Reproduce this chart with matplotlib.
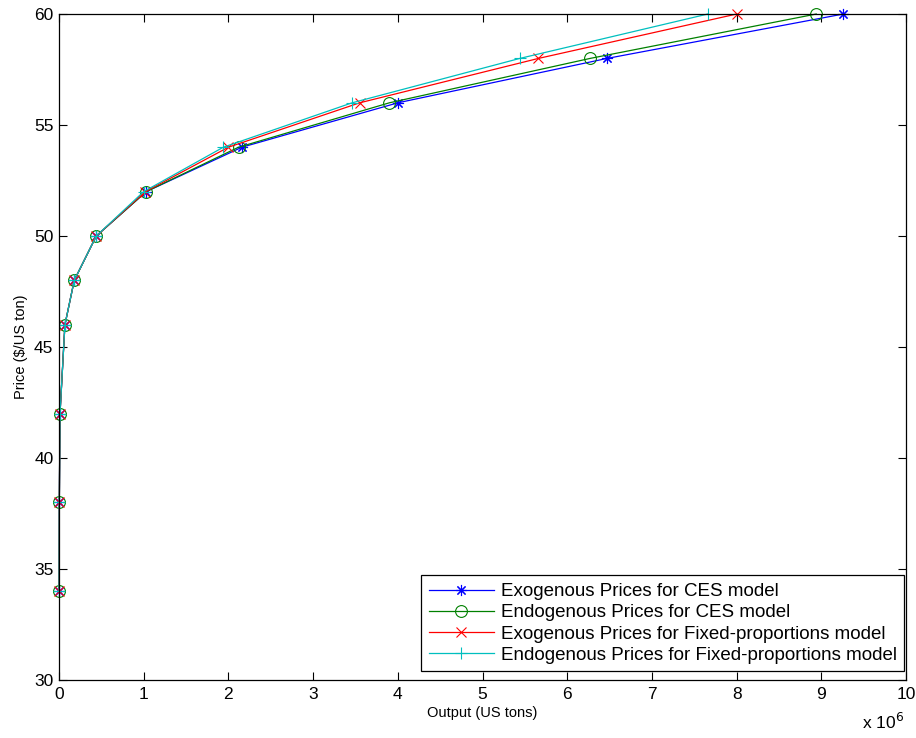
import numpy as np
import matplotlib
matplotlib.use('Agg')
import matplotlib.pyplot as plt

plt.rcParams['font.family'] = ['Liberation Sans', 'DejaVu Sans']

price = [34, 38, 42, 46, 48, 50, 52, 54, 56, 58, 60]

# output in US tons
exo_ces = np.array([0.001, 0.004, 0.012, 0.07, 0.18, 0.44, 1.03, 2.16, 4.00, 6.47, 9.26]) * 1e6
endo_ces = np.array([0.001, 0.004, 0.012, 0.07, 0.18, 0.44, 1.03, 2.12, 3.90, 6.27, 8.94]) * 1e6
exo_fixed = np.array([0.001, 0.004, 0.012, 0.07, 0.18, 0.44, 1.02, 2.00, 3.55, 5.66, 8.00]) * 1e6
endo_fixed = np.array([0.001, 0.004, 0.012, 0.07, 0.18, 0.44, 1.00, 1.94, 3.46, 5.44, 7.66]) * 1e6

labels = ['Exogenous Prices for CES model',
          'Endogenous Prices for CES model',
          'Exogenous Prices for Fixed-proportions model',
          'Endogenous Prices for Fixed-proportions model']

fig = plt.figure(figsize=(9.16, 7.38), dpi=100)
ax = fig.add_axes([0.0644, 0.0786, 0.9247, 0.9024])

asterisk = (8, 2, 0)
ax.plot(exo_ces / 1e6, price, color='b', marker=asterisk, ms=8, mew=0.8, lw=0.9,
        label=labels[0], clip_on=False)
ax.plot(endo_ces / 1e6, price, color=(0, 0.5, 0), marker='o', mfc='none', ms=8.5, mew=0.8,
        lw=0.9, label=labels[1], clip_on=False)
ax.plot(exo_fixed / 1e6, price, color='r', marker='x', ms=7, mew=0.8, lw=0.9,
        label=labels[2], clip_on=False)
ax.plot(endo_fixed / 1e6, price, color=(0, 0.75, 0.75), marker='+', ms=9, mew=0.8, lw=0.9,
        label=labels[3], clip_on=False)

ax.set_xlim(0, 10)
ax.set_ylim(30, 60)
ax.set_xticks(range(0, 11))
ax.set_yticks(range(30, 61, 5))
ax.tick_params(direction='in', length=6, width=0.8, top=True, right=True, labelsize=12.5)
ax.tick_params(axis='x', pad=5)
ax.tick_params(axis='y', pad=4)
for s in ax.spines.values():
    s.set_linewidth(0.9)

ax.set_xlabel('Output (US tons)', fontsize=10.5, labelpad=3)
ax.set_ylabel('Price ($/US ton)', fontsize=10.5, labelpad=4)
ax.text(0.998, -0.0736, r'x 10$^6$', transform=ax.transAxes, ha='right', va='baseline', fontsize=12.5)

leg = ax.legend(loc='lower right', bbox_to_anchor=(0.998, 0.013), borderaxespad=0,
                fontsize=13.5, fancybox=False, edgecolor='k', framealpha=1,
                labelspacing=0.22, handlelength=3.5, handletextpad=0.35, borderpad=0.4)
leg.get_frame().set_linewidth(0.9)

fig.savefig('out.png', dpi=100)
